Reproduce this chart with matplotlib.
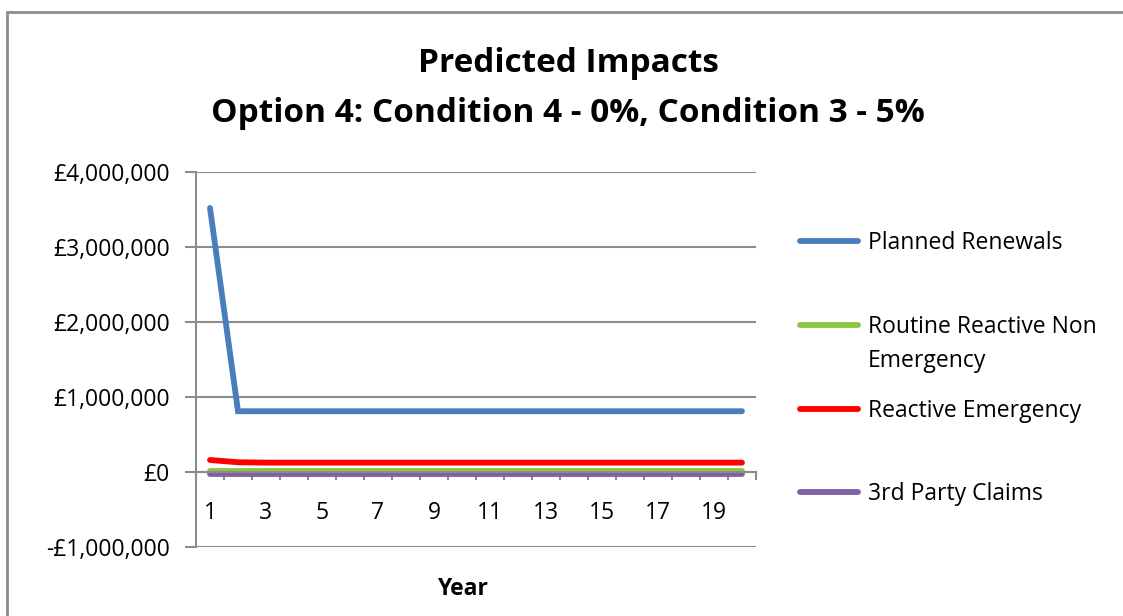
import numpy as np
import matplotlib.pyplot as plt
from matplotlib.patches import Rectangle
from matplotlib.ticker import FuncFormatter

plt.rcParams['font.family'] = ['Open Sans', 'DejaVu Sans']

# ── 数据 ──────────────────────────────
years = np.arange(1, 21)
planned_renewals = [3520000] + [810000] * 19
routine_reactive = [15000] * 20
reactive_emergency = [160000, 130000] + [125000] * 18
third_party = [-20000] * 20

series_labels = ['Planned Renewals', 'Routine Reactive Non Emergency',
                 'Reactive Emergency', '3rd Party Claims']
series_colors = ['#4a7ebb', '#8cc63f', '#ff0000', '#7f60a0']

yticks = [-1000000, 0, 1000000, 2000000, 3000000, 4000000]
xtick_labels = [1, 3, 5, 7, 9, 11, 13, 15, 17, 19]

GRID = '#8c8c8c'
FS = 16.5

fig = plt.figure(figsize=(11.23, 6.16), dpi=100)
ax = fig.add_axes([196/1123, 1 - 547/616, 560/1123, 375/616])

lines = []
for vals, col in zip([planned_renewals, routine_reactive, reactive_emergency, third_party],
                     series_colors):
    ln, = ax.plot(years, vals, color=col, lw=4.2, solid_capstyle='round',
                  solid_joinstyle='miter')
    lines.append(ln)

ax.set_xlim(0.5, 20.5)
ax.set_ylim(-1000000, 4000000)
ax.set_yticks(yticks)
ax.yaxis.set_major_formatter(FuncFormatter(
    lambda v, p: ('-£' if v < 0 else '£') + f'{abs(int(v)):,}'))
ax.grid(axis='y', color=GRID, lw=1.5)
ax.set_axisbelow(True)

# 类别轴：标签在类别中心，刻度线在类别之间
ax.set_xticks(xtick_labels)
ax.set_xticklabels([str(v) for v in xtick_labels])
ax.set_xticks(np.arange(0.5, 21, 1), minor=True)
ax.tick_params(axis='x', which='major', length=0, pad=21, labelsize=FS)
ax.tick_params(axis='x', which='minor', length=6, width=1.5, color=GRID, direction='out')
ax.tick_params(axis='y', length=8, width=1.5, color=GRID, pad=11, labelsize=FS)

for s in ['top', 'right']:
    ax.spines[s].set_visible(False)
ax.spines['left'].set_color(GRID)
ax.spines['left'].set_linewidth(1.5)
ax.spines['bottom'].set_position(('data', 0))
ax.spines['bottom'].set_color(GRID)
ax.spines['bottom'].set_linewidth(1.5)

ax.set_xlabel('Year', fontsize=FS, fontweight='bold')
ax.xaxis.set_label_coords(266/560, -(589 - 547)/375)
ax.xaxis.label.set_va('center')

fig.text(568/1123, 1 - 63/616, 'Predicted Impacts', ha='center', va='center',
         fontsize=24, fontweight='bold')
fig.text(568/1123, 1 - 113/616, 'Option 4: Condition 4 - 0%, Condition 3 - 5%',
         ha='center', va='center', fontsize=24, fontweight='bold')

# 图例：第二项折成两行，第二行单独放在第一行下面
leg_labels = ['Planned Renewals', 'Routine Reactive Non', 'Reactive Emergency', '3rd Party Claims']
leg = fig.legend(lines, leg_labels, loc='upper left',
                 bbox_to_anchor=(800/1123, 1 - 231/616),
                 frameon=False, fontsize=FS, handlelength=2.55,
                 handletextpad=0.4, labelspacing=2.61, borderpad=0, borderaxespad=0)

fig.canvas.draw()
bb = leg.get_texts()[1].get_window_extent()
fig.text(bb.x0 / 1123, (bb.y0 + bb.y1) / 2 / 616 - 34 / 616, 'Emergency',
         ha='left', va='center', fontsize=FS)

# 图表外框
fig.patches.append(Rectangle((7/1123, -0.05), 1.1, 1 - 12/616 + 0.05,
                             transform=fig.transFigure, fill=False,
                             edgecolor='#8c8c8c', lw=2))

fig.savefig('out.png', dpi=100)
